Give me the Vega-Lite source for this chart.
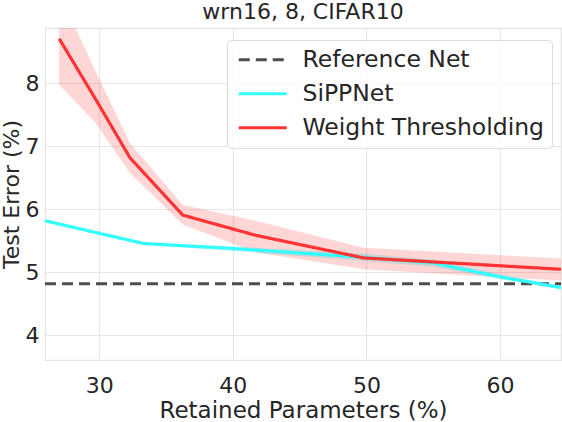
{
  "$schema": "https://vega.github.io/schema/vega-lite/v6.json",
  "width": 516,
  "height": 332,
  "autosize": "none",
  "padding": {"left": 45, "top": 28, "right": 1, "bottom": 62},
  "background": "white",
  "title": {
    "text": "wrn16, 8, CIFAR10",
    "fontSize": 22,
    "font": "DejaVu Sans",
    "fontWeight": "normal",
    "color": "#262626",
    "anchor": "middle",
    "offset": 4
  },
  "config": {
    "font": "DejaVu Sans",
    "view": {"stroke": "#e3e3e3", "strokeWidth": 1.2},
    "axis": {
      "gridColor": "#e6e6e6",
      "gridWidth": 1.2,
      "domain": false,
      "ticks": false,
      "tickSize": 0,
      "labelFontSize": 22,
      "labelColor": "#262626",
      "titleFontSize": 23,
      "titleFontWeight": "normal",
      "titleColor": "#262626"
    }
  },
  "datasets": {
    "lines": [
      {"series": "Reference Net", "x": 25.94, "y": 4.82},
      {"series": "Reference Net", "x": 64.56, "y": 4.82},
      {"series": "SiPPNet", "x": 25.94, "y": 5.82},
      {"series": "SiPPNet", "x": 33.3, "y": 5.46},
      {"series": "SiPPNet", "x": 40.0, "y": 5.38},
      {"series": "SiPPNet", "x": 49.8, "y": 5.24},
      {"series": "SiPPNet", "x": 55.0, "y": 5.15},
      {"series": "SiPPNet", "x": 60.0, "y": 4.93},
      {"series": "SiPPNet", "x": 64.56, "y": 4.76},
      {"series": "Weight Thresholding", "x": 27.0, "y": 8.71},
      {"series": "Weight Thresholding", "x": 29.7, "y": 7.76},
      {"series": "Weight Thresholding", "x": 32.3, "y": 6.82},
      {"series": "Weight Thresholding", "x": 36.25, "y": 5.91},
      {"series": "Weight Thresholding", "x": 41.7, "y": 5.59},
      {"series": "Weight Thresholding", "x": 49.8, "y": 5.23},
      {"series": "Weight Thresholding", "x": 64.56, "y": 5.05}
    ],
    "bandWT": [
      {"x": 27.0, "lo": 7.98, "hi": 9.44},
      {"x": 29.7, "lo": 7.38, "hi": 8.2},
      {"x": 32.3, "lo": 6.58, "hi": 7.05},
      {"x": 36.25, "lo": 5.76, "hi": 6.07},
      {"x": 41.7, "lo": 5.32, "hi": 5.82},
      {"x": 49.8, "lo": 5.05, "hi": 5.39},
      {"x": 64.56, "lo": 4.87, "hi": 5.22}
    ],
    "bandSiPP": [
      {"x": 25.94, "lo": 5.8, "hi": 5.84},
      {"x": 33.3, "lo": 5.44, "hi": 5.48},
      {"x": 40.0, "lo": 5.34, "hi": 5.41},
      {"x": 49.8, "lo": 5.18, "hi": 5.3},
      {"x": 55.0, "lo": 5.09, "hi": 5.2},
      {"x": 60.0, "lo": 4.89, "hi": 4.97},
      {"x": 64.56, "lo": 4.73, "hi": 4.79}
    ]
  },
  "layer": [
    {
      "data": {"name": "bandWT"},
      "mark": {"type": "area", "color": "#ff3333", "opacity": 0.2, "clip": true},
      "encoding": {
        "x": {"field": "x", "type": "quantitative"},
        "y": {"field": "lo", "type": "quantitative"},
        "y2": {"field": "hi"}
      }
    },
    {
      "data": {"name": "bandSiPP"},
      "mark": {"type": "area", "color": "#00bcbc", "opacity": 0.2, "clip": true},
      "encoding": {
        "x": {"field": "x", "type": "quantitative"},
        "y": {"field": "lo", "type": "quantitative"},
        "y2": {"field": "hi"}
      }
    },
    {
      "data": {"name": "lines"},
      "mark": {"type": "line", "strokeWidth": 3.2, "clip": true},
      "encoding": {
        "x": {
          "field": "x",
          "type": "quantitative",
          "scale": {"domain": [25.94, 64.56], "nice": false, "zero": false},
          "axis": {
            "values": [30, 40, 50, 60],
            "format": "d",
            "title": "Retained Parameters (%)",
            "labelPadding": 15,
            "titlePadding": 3
          }
        },
        "y": {
          "field": "y",
          "type": "quantitative",
          "scale": {"domain": [3.61, 8.88], "nice": false, "zero": false},
          "axis": {
            "values": [4, 5, 6, 7, 8],
            "format": "d",
            "title": "Test Error (%)",
            "titleFontSize": 22,
            "labelPadding": 6,
            "titlePadding": 2
          }
        },
        "color": {
          "field": "series",
          "type": "nominal",
          "scale": {
            "domain": ["Reference Net", "SiPPNet", "Weight Thresholding"],
            "range": ["#4d4d4d", "#33ffff", "#ff3333"]
          },
          "legend": {
            "title": null,
            "orient": "none",
            "legendX": 182,
            "legendY": 12,
            "symbolType": "M-1,0H5",
            "symbolSize": 256,
            "symbolStrokeWidth": 3.2,
            "labelFontSize": 23.5,
            "labelColor": "#262626",
            "labelLimit": 0,
            "labelOffset": 44,
            "rowPadding": 9,
            "padding": 8,
            "fillColor": "rgba(255,255,255,0.8)",
            "strokeColor": "#dddddd",
            "cornerRadius": 4
          }
        },
        "strokeDash": {
          "field": "series",
          "type": "nominal",
          "scale": {
            "domain": ["Reference Net", "SiPPNet", "Weight Thresholding"],
            "range": [[11, 6], [1, 0], [1, 0]]
          },
          "legend": null
        }
      }
    }
  ]
}
